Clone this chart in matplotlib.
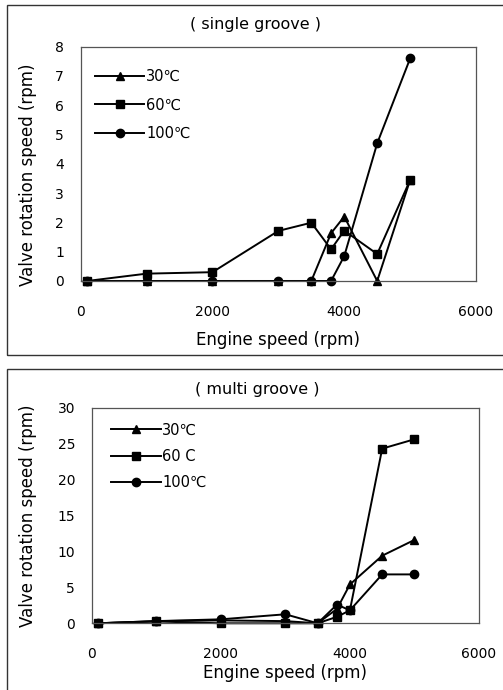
import matplotlib
matplotlib.use("Agg")
import matplotlib.pyplot as plt
from matplotlib.patches import Rectangle

plt.rcParams['font.family'] = ['DejaVu Sans']

# engine speed (rpm)
speed = [100, 1000, 2000, 3000, 3500, 3800, 4000, 4500, 5000]
labels = ['30℃', '60℃', '100℃']
labels_multi = ['30℃', '60 C', '100℃']

# single groove
single_30 = [0, 0, 0, 0, 0, 1.63, 2.2, 0, 3.45]
single_60 = [0, 0.25, 0.3, 1.71, 1.99, 1.08, 1.72, 0.92, 3.45]
single_100 = [0, 0, 0, 0, 0, 0, 0.85, 4.7, 7.6]

# multi groove
multi_30 = [0, 0.3, 0.4, 0.3, 0, 2.0, 5.4, 9.4, 11.6]
multi_60 = [0, 0.25, 0, 0, 0, 0.9, 1.8, 24.3, 25.6]
multi_100 = [0, 0.3, 0.55, 1.25, 0, 2.6, 1.8, 6.8, 6.8]

markers = ['^', 's', 'o']
msizes = [6, 5.5, 6]

fig = plt.figure(figsize=(5.03, 6.90), dpi=100)

# outer frames
fig.patches.append(Rectangle((0.014, 0.4855), 1.0, 0.507, transform=fig.transFigure,
                             fill=False, edgecolor='#333333', lw=1.0))
fig.patches.append(Rectangle((0.014, -0.02), 1.0, 0.485, transform=fig.transFigure,
                             fill=False, edgecolor='#333333', lw=1.0))

ax1 = fig.add_axes([0.1604, 0.5928, 0.786, 0.3395])
ax2 = fig.add_axes([0.1823, 0.0967, 0.770, 0.3125])


def draw(ax, series, labs, ylim, yticks, title, tpos, xlab_y, ylab_pos, leg_anchor, spacing):
    for ys, m, ms, lab in zip(series, markers, msizes, labs):
        ax.plot(speed, ys, color='black', lw=1.4, marker=m, markersize=ms,
                label=lab, clip_on=False)
    ax.set_xlim(0, 6000)
    ax.set_ylim(*ylim)
    ax.set_xticks([0, 2000, 4000, 6000])
    ax.set_yticks(yticks)
    ax.tick_params(length=0, labelsize=10)
    ax.tick_params(axis='x', pad=17)
    ax.tick_params(axis='y', pad=12)
    for s in ax.spines.values():
        s.set_color('#555555')
        s.set_linewidth(0.9)
    ax.set_xlabel('Engine speed (rpm)', fontsize=12, va='center')
    ax.xaxis.set_label_coords(0.5, xlab_y)
    ax.set_ylabel('Valve rotation speed (rpm)', fontsize=12, va='center')
    ax.yaxis.set_label_coords(*ylab_pos)
    ax.text(tpos[0], tpos[1], title, transform=ax.transAxes, ha='center',
            va='center', fontsize=11.5)
    ax.legend(loc='upper left', bbox_to_anchor=leg_anchor, frameon=False,
              fontsize=10.5, handlelength=3.4, handletextpad=0.1,
              labelspacing=spacing, borderaxespad=0, borderpad=0)


draw(ax1, [single_30, single_60, single_100], labels, (0, 8), range(0, 9),
     '( single groove )', (0.441, 1.093), -0.252, (-0.133, 0.452),
     (0.036, 0.905), 0.92)
draw(ax2, [multi_30, multi_60, multi_100], labels_multi, (0, 30), range(0, 31, 5),
     '( multi groove )', (0.427, 1.082), -0.2305, (-0.1645, 0.5),
     (0.05, 0.931), 0.78)

fig.savefig('out.png', dpi=100)
